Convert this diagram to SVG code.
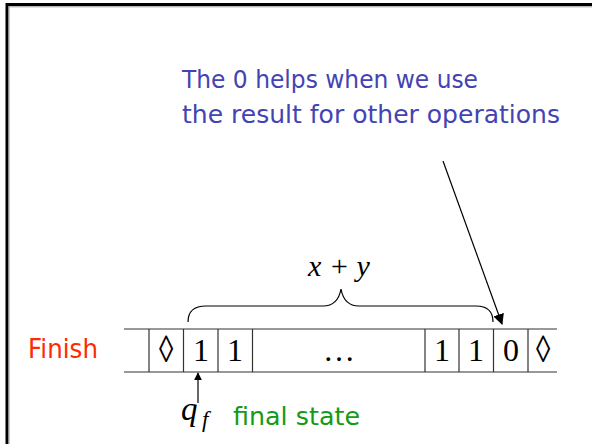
<svg xmlns="http://www.w3.org/2000/svg" width="592" height="444" viewBox="0 0 592 444">
<style>
.note{font-family:"DejaVu Sans","Open Sans",sans-serif;font-size:25.5px;fill:#4343b3}
.cell{font-family:"Liberation Serif",serif;font-size:32px;fill:#000;text-anchor:middle}
.math{font-family:"Liberation Serif",serif;font-style:italic;fill:#000}
.tape{stroke:#333;stroke-width:1.2;fill:none}
.conn{stroke:#000;stroke-width:1.2;fill:none}
</style>
<defs>
<marker id="ah" viewBox="0 0 10 10" refX="9" refY="5" markerWidth="8" markerHeight="8" markerUnits="userSpaceOnUse" orient="auto">
<path d="M0,0 L10,5 L0,10 z" fill="#000"/>
</marker>
<marker id="ah2" viewBox="0 0 10 10" refX="9" refY="5" markerWidth="11" markerHeight="11" markerUnits="userSpaceOnUse" orient="auto">
<path d="M0,0 L10,5 L0,10 z" fill="#000"/>
</marker>
</defs>
<rect width="592" height="444" fill="#fff"/>
<path d="M7,444 V4.5 H592" stroke="#000" stroke-width="3" fill="none"/>
<path d="M9,444 V6.8 H592" stroke="#999" stroke-width="1" fill="none"/>

<g id="note">
<text class="note" x="182" y="88" textLength="296" lengthAdjust="spacingAndGlyphs">The 0 helps when we use</text>
<text class="note" x="182" y="123" textLength="378" lengthAdjust="spacingAndGlyphs">the result for other operations</text>
</g>

<g id="finish">
<text x="28" y="358" font-family="DejaVu Sans,sans-serif" font-size="26" fill="#ff2a00" textLength="70" lengthAdjust="spacingAndGlyphs">Finish</text>
</g>

<g id="tape">
<path class="tape" d="M124,329 H557 M124,372 H557 M149,329 V372 M183.5,329 V372 M218,329 V372 M252.5,329 V372 M425,329 V372 M459,329 V372 M493.5,329 V372 M528,329 V372"/>
<text class="cell" transform="translate(166,361.5) scale(0.9,1.18)">◊</text>
<text class="cell" x="201" y="361">1</text>
<text class="cell" x="235" y="361">1</text>
<text class="cell" x="339" y="361">…</text>
<text class="cell" x="442" y="361">1</text>
<text class="cell" x="476" y="361">1</text>
<text class="cell" x="511" y="361">0</text>
<text class="cell" transform="translate(543,361.5) scale(0.9,1.18)">◊</text>
</g>

<g id="brace">
<path class="conn" d="M188,322 C188,312 194,306 206,306 H323 C333,306 339,300 341,289 C343,300 349,306 359,306 H476 C488,306 493,312 493,322"/>
<text class="math" x="339" y="276" font-size="30" text-anchor="middle">x + y</text>
</g>

<g id="state">
<text class="math" x="181" y="420" font-size="33">q</text>
<text class="math" x="202" y="427" font-size="23">f</text>
<text x="233" y="425" font-family="DejaVu Sans,sans-serif" font-size="25" fill="#159a15" textLength="127" lengthAdjust="spacingAndGlyphs">final state</text>
</g>

<g id="connectors">
<line class="conn" x1="198" y1="403" x2="198" y2="373" marker-end="url(#ah)"/>
<line class="conn" x1="443" y1="161" x2="502" y2="324" marker-end="url(#ah2)"/>
</g>
</svg>
